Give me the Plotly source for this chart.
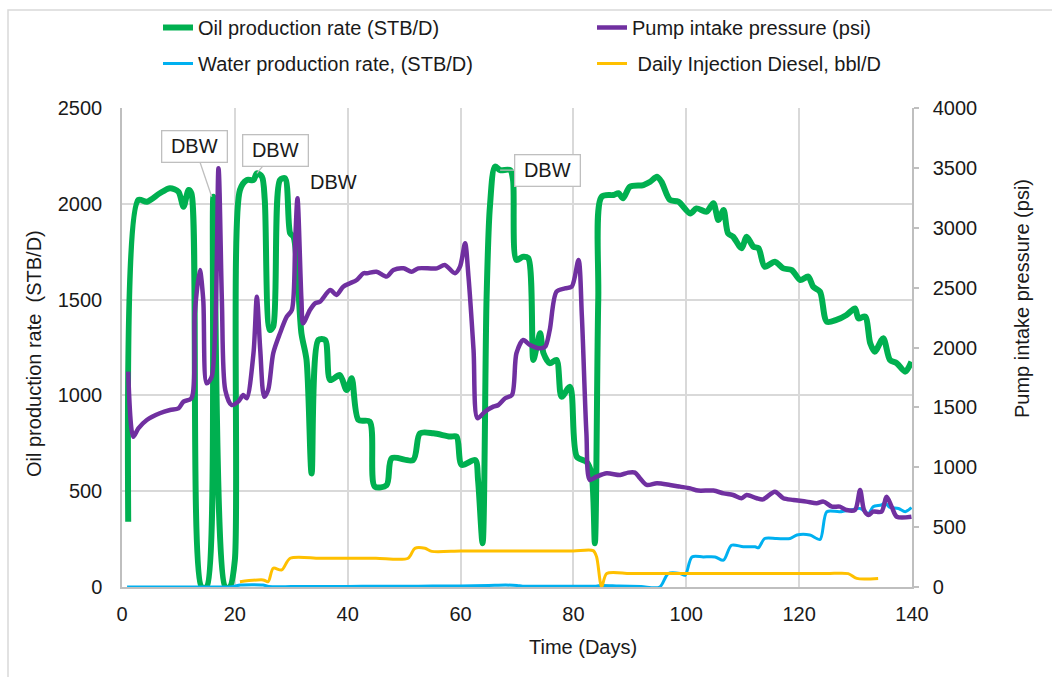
import plotly.graph_objects as go

# ---------------- data ----------------
oil_days = [1.1, 2.9, 4.4, 6.7, 8.5, 10.0, 10.9, 11.8, 12.3, 14.1, 15.0, 16.2, 18.3, 19.1, 20.0,
            20.9, 22.1, 23.3, 23.9, 24.8, 25.3, 26.2, 26.8, 28.0, 28.9, 29.8, 30.4, 31.8, 32.7,
            33.6, 34.8, 36.0, 36.9, 38.6, 39.8, 40.7, 41.9, 43.9, 44.8, 46.9, 47.8, 51.6, 52.8,
            55.2, 58.1, 59.3, 60.2, 62.6, 63.1, 63.9, 64.6, 65.2, 66.1, 67.0, 68.8, 69.3, 69.9,
            71.1, 72.0, 72.9, 73.5, 74.1, 74.7, 75.8, 77.0, 77.9, 79.4, 80.6, 82.3, 83.2, 83.8,
            84.4, 85.0, 87.1, 88.0, 88.8, 90.0, 92.4, 93.6, 94.8, 95.6, 97.1, 98.6, 100.7, 101.8,
            103.6, 104.8, 105.7, 106.6, 107.4, 108.3, 109.8, 110.7, 111.9, 112.8, 113.9, 115.7,
            117.2, 118.7, 120.2, 121.6, 122.5, 123.7, 124.9, 126.6, 128.4, 129.9, 130.5, 131.7,
            132.6, 133.4, 134.9, 136.1, 137.3, 138.8, 139.9]
oil_rate = [341, 2020, 2011, 2055, 2081, 2063, 1985, 2072, 2055, 0, 0, 2037, 0, 0, 141,
            2072, 2124, 2124, 2159, 2141, 2020, 1341, 1359, 2124, 2133, 1846, 1828, 1324, 1185,
            593, 1289, 1289, 1080, 1106, 1028, 1089, 872, 863, 524, 532, 672, 663, 802,
            802, 785, 785, 637, 663, 558, 228, 1498, 1985, 2194, 2176, 2176, 2124, 1707,
            1724, 1716, 1185, 1254, 1324, 1220, 1168, 1185, 993, 1045, 680, 654, 593, 228,
            1498, 2037, 2046, 2055, 2029, 2089, 2098, 2115, 2141, 2115, 2020, 2011, 1950, 1976,
            1959, 2003, 1915, 1968, 1846, 1828, 1768, 1828, 1776, 1768, 1672, 1698,
            1663, 1654, 1602, 1620, 1567, 1541, 1385, 1394, 1420, 1454, 1402, 1411,
            1272, 1228, 1298, 1185, 1168, 1124, 1176]

pip_days = [1.1, 2.0, 2.9, 4.4, 6.7, 8.5, 10.0, 10.9, 12.3, 12.9, 13.8, 14.4, 15.0, 15.9, 17.1,
            17.7, 18.3, 19.4, 20.6, 21.5, 22.1, 23.3, 23.9, 24.5, 25.2, 25.9, 26.8, 28.0, 29.2,
            30.1, 30.7, 31.1, 31.8, 32.1, 33.3, 34.2, 35.1, 36.9, 38.0, 39.2, 40.4, 41.6, 42.8,
            43.4, 45.1, 46.9, 48.1, 49.9, 51.3, 52.5, 55.8, 57.2, 59.0, 59.9, 60.8, 61.4, 62.3,
            63.0, 64.3, 65.8, 66.7, 67.9, 69.1, 69.9, 71.1, 72.3, 74.1, 75.0, 75.8, 77.0, 78.5,
            79.7, 80.9, 81.5, 82.3, 82.9, 84.1, 85.9, 88.3, 89.7, 90.9, 91.8, 93.0, 94.8, 97.1,
            98.9, 100.7, 102.1, 104.8, 106.6, 108.3, 109.8, 110.7, 112.5, 113.6, 115.7, 117.2,
            119.0, 121.3, 123.1, 124.3, 125.8, 127.2, 128.4, 129.9, 130.8, 131.5, 132.3, 133.1,
            134.6, 135.5, 136.4, 137.3, 139.9]
pip_psi = [1798, 1255, 1325, 1395, 1451, 1478, 1492, 1548, 1576, 2286, 2647, 2397, 1701, 1756, 3497,
           2397, 1645, 1520, 1548, 1603, 1576, 1952, 2424, 1979, 1589, 1645, 1952, 2119, 2257,
           2313, 2898, 3246, 2397, 2202, 2313, 2369, 2383, 2480, 2439, 2508, 2536, 2564, 2620,
           2620, 2633, 2592, 2647, 2661, 2633, 2661, 2661, 2689, 2620, 2675, 2870, 2592, 1979,
           1409, 1464, 1506, 1520, 1576, 1603, 1952, 2063, 2021, 1993, 2007, 2146, 2466, 2494,
           2508, 2731, 2257, 1284, 894, 921, 949, 935, 955, 955, 908, 852, 866, 852,
           838, 824, 805, 805, 782, 768, 741, 768, 741, 732, 796, 741,
           727, 713, 699, 713, 671, 671, 643, 643, 810, 643, 601, 629,
           629, 754, 671, 587, 587]

water_days = [0.9, 5.0, 10.0, 14.0, 18.0, 19.5, 21.0, 25.0, 26.0, 30.0, 35.0, 40.0, 45.0, 50.0,
              55.0, 60.0, 65.0, 68.0, 70.0, 71.0, 75.0, 80.0, 84.0, 85.0, 88.0, 92.0, 95.3,
              96.8, 98.9, 99.8, 101.0, 103.0, 105.1, 106.6, 108.0, 110.1, 112.2, 112.8,
              113.9, 116.0, 118.4, 119.6, 121.9, 123.7, 124.9, 127.2, 129.6, 130.8, 132.3, 133.1,
              134.6, 135.2, 136.1, 137.6, 138.8, 139.9]
water_rate = [0, 0, 0, 0, 0, 2, 10, 10, 3, 2, 3, 3, 4, 4,
              5, 5, 8, 10, 8, 4, 4, 4, 4, 8, 5, 2, 0,
              70, 70, 61, 157, 157, 157, 140, 218, 210, 210, 205,
              253, 253, 253, 271, 271, 248, 393, 393, 405, 410, 384, 419,
              428, 440, 415, 410, 393, 415]

diesel_days = [20.9, 25.0, 25.9, 26.8, 28.3, 29.8, 35.0, 40.0, 45.0, 50.7, 51.9, 53.7, 54.9,
               60.0, 65.0, 70.0, 75.0, 80.0, 83.5, 84.1, 85.0, 85.9, 90.0, 95.0, 100.0, 105.0,
               110.0, 115.0, 120.0, 125.0, 128.7, 130.2, 134.0]
diesel_rate = [28, 37, 28, 98, 89, 150, 150, 150, 150, 150, 202, 202, 186,
               188, 188, 188, 188, 188, 190, 158, 0, 70, 70, 70, 70, 70,
               70, 70, 70, 70, 70, 45, 45]

dbw_days = [15.9, 23.9, 37.4, 67.0]
dbw_vals = [2037, 2159, 2114, 2176]

x_ticks = [0, 20, 40, 60, 80, 100, 120, 140]
y_ticks = [0, 500, 1000, 1500, 2000, 2500]
y2_ticks = [0, 500, 1000, 1500, 2000, 2500, 3000, 3500, 4000]

# ---------------- figure ----------------
FONT = "Liberation Sans, Arial, sans-serif"
TXT = "#1a1a1a"
GRID = "#d9d9d9"

fig = go.Figure()
fig.add_trace(go.Scatter(x=oil_days, y=oil_rate, name="Oil production rate (STB/D)",
                         mode="lines", line=dict(color="#00B050", width=6, shape="spline", smoothing=0.8),
                         legend="legend", legendgroup="a"))
fig.add_trace(go.Scatter(x=water_days, y=water_rate, name="Water production rate, (STB/D)",
                         mode="lines", line=dict(color="#00B0F0", width=3, shape="spline", smoothing=0.8),
                         legend="legend", legendgroup="b"))
fig.add_trace(go.Scatter(x=pip_days, y=pip_psi, name="Pump intake pressure (psi)", yaxis="y2",
                         mode="lines", line=dict(color="#7030A0", width=4.5, shape="spline", smoothing=0.8),
                         legend="legend2", legendgroup="c"))
fig.add_trace(go.Scatter(x=diesel_days, y=diesel_rate, name="\u00a0Daily Injection Diesel, bbl/D",
                         mode="lines", line=dict(color="#FFC000", width=3, shape="spline", smoothing=0.8),
                         legend="legend2", legendgroup="d"))

L, R, T, B = 122, 140, 108, 90
W, H = 1052, 677
pw, ph = W - L - R, H - T - B

def px(xp):
    return (xp - L) / pw

def py(yp):
    return (H - B - yp) / ph

ann = []
box = dict(font=dict(family=FONT, size=20, color=TXT), bgcolor="white", bordercolor="#bfbfbf",
           borderwidth=1.3, borderpad=4, showarrow=True, arrowhead=0, arrowwidth=1.3,
           arrowcolor="#bfbfbf", xref="x", yref="y", width=56)
ann.append(dict(text="DBW", x=dbw_days[0], y=dbw_vals[0], ax=-17, ay=-50, **box))
ann.append(dict(text="DBW", x=dbw_days[1], y=dbw_vals[1], ax=19, ay=-23, **box))
ann.append(dict(text="DBW", x=dbw_days[2], y=dbw_vals[2], xref="x", yref="y", showarrow=False,
                font=dict(family=FONT, size=20, color=TXT)))
ann.append(dict(text="DBW", x=dbw_days[3], y=dbw_vals[3], ax=47, ay=0, **box))

title_font = dict(family=FONT, size=20, color=TXT)
ann.append(dict(text="Oil production rate  (STB/D)", x=px(34), y=py(354), xref="paper", yref="paper",
                xanchor="center", yanchor="middle", showarrow=False, textangle=-90, font=title_font))
ann.append(dict(text="Pump intake pressure (psi)", x=px(1022), y=py(299), xref="paper", yref="paper",
                xanchor="center", yanchor="middle", showarrow=False, textangle=-90, font=title_font))
ann.append(dict(text="Time (Days)", x=px(583), y=py(647), xref="paper", yref="paper",
                xanchor="center", yanchor="middle", showarrow=False, font=title_font))

fig.update_layout(
    width=W, height=H,
    margin=dict(l=L, r=R, t=T, b=B, autoexpand=False),
    paper_bgcolor="white", plot_bgcolor="white",
    font=dict(family=FONT, size=20, color=TXT),
    annotations=ann,
    shapes=[dict(type="rect", xref="paper", yref="paper", x0=px(8), x1=px(1060), y0=py(690), y1=py(10),
                 line=dict(color=GRID, width=1.5), fillcolor="rgba(0,0,0,0)", layer="below")],
    xaxis=dict(range=[0, 140], tickvals=x_ticks, showgrid=True, gridcolor=GRID, gridwidth=2,
               showline=True, linecolor="#bfbfbf", linewidth=1.5, zeroline=False, ticks="",
               ticklabelstandoff=8, tickfont=dict(size=20)),
    yaxis=dict(range=[0, 2500], tickvals=y_ticks, showgrid=True, gridcolor=GRID, gridwidth=2,
               showline=True, linecolor="#bfbfbf", linewidth=1.5, zeroline=False, ticks="",
               ticklabelstandoff=14, tickfont=dict(size=20)),
    yaxis2=dict(range=[0, 4000], tickvals=y2_ticks, overlaying="y", side="right", showgrid=False,
                showline=True, linecolor="#bfbfbf", linewidth=1.5, zeroline=False,
                ticks="outside", ticklen=5, tickcolor="#bfbfbf", tickwidth=1.5,
                ticklabelstandoff=10, tickfont=dict(size=20)),
    legend=dict(x=px(158), y=py(8), xanchor="left", yanchor="top", orientation="v",
                tracegroupgap=7, traceorder="grouped",
                font=dict(family=FONT, size=20, color=TXT), bgcolor="rgba(0,0,0,0)"),
    legend2=dict(x=px(592), y=py(8), xanchor="left", yanchor="top", orientation="v",
                 tracegroupgap=7, traceorder="grouped",
                 font=dict(family=FONT, size=20, color=TXT), bgcolor="rgba(0,0,0,0)"),
)

fig.write_html("out.html")
